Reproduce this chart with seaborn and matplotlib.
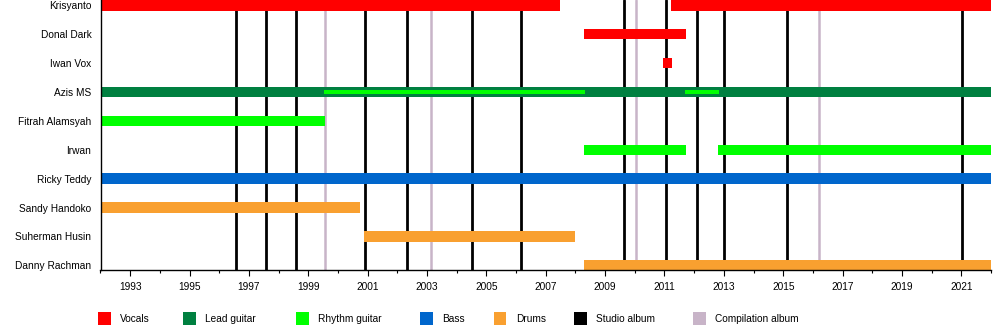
import matplotlib
matplotlib.use("Agg")
import matplotlib.pyplot as plt
from matplotlib.patches import Rectangle
from matplotlib.ticker import FixedLocator
import seaborn as sns
import pandas as pd

sns.set_theme(style="white")
plt.rcParams['font.family'] = ['Liberation Sans', 'DejaVu Sans']

# ---- data ----
members = ["Krisyanto", "Donal Dark", "Iwan Vox", "Azis MS", "Fitrah Alamsyah",
           "Irwan", "Ricky Teddy", "Sandy Handoko", "Suherman Husin", "Danny Rachman"]

# main bars: member, role, start, end
bar_member = ["Krisyanto", "Krisyanto", "Donal Dark", "Iwan Vox", "Azis MS",
              "Fitrah Alamsyah", "Irwan", "Irwan", "Ricky Teddy",
              "Sandy Handoko", "Suherman Husin", "Danny Rachman"]
bar_role = ["Vocals", "Vocals", "Vocals", "Vocals", "Lead guitar",
            "Rhythm guitar", "Rhythm guitar", "Rhythm guitar", "Bass",
            "Drums", "Drums", "Drums"]
bar_start = [1992.0, 2011.23, 2008.30, 2010.96, 1992.0,
             1992.0, 2008.30, 2012.81, 1992.0,
             1992.0, 2000.89, 2008.30]
bar_end = [2007.49, 2022.0, 2011.73, 2011.27, 2022.0,
           1999.58, 2011.73, 2022.0, 2022.0,
           2000.75, 2008.0, 2022.0]

# thin overlay bars (secondary role)
ov_member = ["Azis MS", "Azis MS"]
ov_role = ["Rhythm guitar", "Rhythm guitar"]
ov_start = [1999.54, 2011.70]
ov_end = [2008.33, 2012.84]

studio_albums = [1996.55, 1997.56, 1998.58, 2000.90, 2002.31, 2004.51, 2006.16,
                 2009.65, 2011.06, 2012.11, 2012.99, 2015.14, 2021.01]
compilation_albums = [1999.56, 2003.15, 2010.05, 2016.22]

legend_labels = ["Vocals", "Lead guitar", "Rhythm guitar", "Bass", "Drums",
                 "Studio album", "Compilation album"]

colors = {
    "Vocals": "#FF0000",
    "Lead guitar": "#008040",
    "Rhythm guitar": "#00FF00",
    "Bass": "#0066CC",
    "Drums": "#F9A030",
    "Studio album": "#000000",
    "Compilation album": "#C8B4C8",
}

start_year, end_year = 1992, 2022

bars = pd.DataFrame({"member": bar_member, "role": bar_role,
                     "start": bar_start, "end": bar_end})
overlays = pd.DataFrame({"member": ov_member, "role": ov_role,
                         "start": ov_start, "end": ov_end})

# ---- figure ----
fig = plt.figure(figsize=(10, 3.3), dpi=100)
ax = fig.add_axes([0.1005, 60 / 330, 0.8905, 270 / 330])

row = {m: i for i, m in enumerate(members)}

for x in studio_albums:
    ax.axvline(x, color=colors["Studio album"], lw=2.0, zorder=1)
for x in compilation_albums:
    ax.axvline(x, color=colors["Compilation album"], lw=1.8, zorder=1)

ax.barh([row[m] for m in bars["member"]], bars["end"] - bars["start"],
        left=bars["start"], height=0.365,
        color=[colors[r] for r in bars["role"]], zorder=2, linewidth=0)
ax.barh([row[m] for m in overlays["member"]], overlays["end"] - overlays["start"],
        left=overlays["start"], height=0.14,
        color=[colors[r] for r in overlays["role"]], zorder=3, linewidth=0)

ax.set_xlim(start_year, end_year)
ax.set_ylim(9.16, -0.183)
ax.set_yticks(range(len(members)))
ax.set_yticklabels(members, fontsize=7.3, color="black")
ax.tick_params(axis="y", length=0, pad=6.5)

ax.xaxis.set_major_locator(FixedLocator(list(range(1993, 2022, 2))))
ax.xaxis.set_minor_locator(FixedLocator(list(range(1992, 2023, 2))))
ax.set_xticklabels([str(y) for y in range(1993, 2022, 2)], fontsize=7.3, color="black")
ax.tick_params(axis="x", which="major", bottom=True, length=4.3, width=0.8,
               color="black", pad=4)
ax.tick_params(axis="x", which="minor", bottom=True, length=2.3, width=0.8,
               color="black")

for side in ["top", "right"]:
    ax.spines[side].set_visible(False)
for side in ["left", "bottom"]:
    ax.spines[side].set_color("black")
    ax.spines[side].set_linewidth(1.0)
    ax.spines[side].set_zorder(4)
ax.grid(False)
ax.set_facecolor("white")

# ---- legend (manual, figure pixel layout) ----
legend_x = [98, 183, 296, 420, 494, 574, 693]
W, H = 1000.0, 330.0
for lab, x in zip(legend_labels, legend_x):
    fig.patches.append(Rectangle((x / W, 1 - 324.5 / H), 12.5 / W, 12.5 / H,
                                 transform=fig.transFigure,
                                 facecolor=colors[lab], edgecolor="none"))
    fig.text((x + 22) / W, 1 - 319.5 / H, lab, fontsize=7.3, va="center",
             ha="left", color="black")

fig.savefig("out.png", dpi=100, facecolor="white")
